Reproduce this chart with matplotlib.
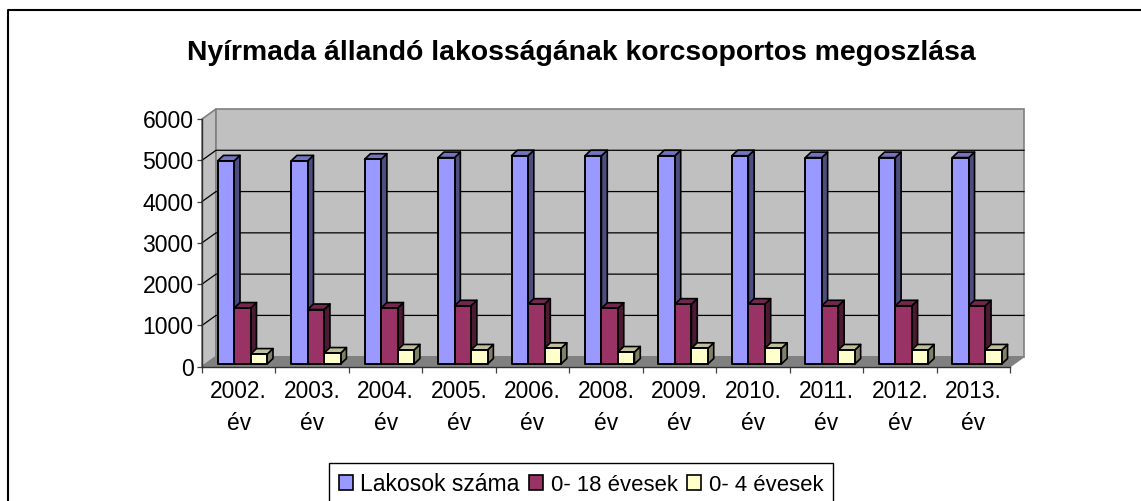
import matplotlib
matplotlib.use("Agg")
from matplotlib import pyplot as plt
from matplotlib.lines import Line2D
from matplotlib.patches import Patch

title = "Nyírmada állandó lakosságának korcsoportos megoszlása"
years = ["2002.", "2003.", "2004.", "2005.", "2006.", "2008.", "2009.", "2010.", "2011.", "2012.", "2013."]
lakosok = [4920, 4920, 4960, 5000, 5045, 5045, 5045, 5045, 5000, 5000, 5000]
kozep = [1355, 1320, 1355, 1410, 1450, 1350, 1450, 1450, 1410, 1410, 1410]
kicsi = [240, 265, 340, 340, 380, 290, 380, 380, 340, 340, 340]
series_names = ["Lakosok száma", "0- 18 évesek", "0- 4 évesek"]
yticks = [0, 1000, 2000, 3000, 4000, 5000, 6000]

W, H = 1141, 501
plt.rcParams["font.family"] = ["Liberation Sans", "DejaVu Sans"]

fig = plt.figure(figsize=(W / 100, H / 100), dpi=100)
ax = fig.add_axes([202 / W, 1 - 366.7 / H, 808 / W, 247.7 / H])
ax.set_xlim(0, 11)
ax.set_ylim(0, 6000)
ax.patch.set_visible(False)

# one pixel expressed in data units, for the fake 3d offsets
px = 11 / 808
py = 6000 / 247.7
back_x, back_y = 14 * px, 10 * py
base_x, base_y = 2.5 * px, 2.7 * py
depth_x, depth_y = 5.8 * px, 5.5 * py
bar_w = 16.5 * px
start = 13.2 * px

# walls and floor
ax.fill([0, back_x, back_x, 0], [0, back_y, 6000 + back_y, 6000], fc="#c0c0c0", ec="#808080", lw=1.2, clip_on=False, zorder=1)
ax.fill([back_x, 11 + back_x, 11 + back_x, back_x], [back_y, back_y, 6000 + back_y, 6000 + back_y],
        fc="#c0c0c0", ec="#808080", lw=1.2, clip_on=False, zorder=1)
ax.fill([0, 11, 11 + back_x, back_x], [0, 0, back_y, back_y], fc="#808080", ec="#808080", lw=1, clip_on=False, zorder=2)
for v in yticks[1:-1]:
    ax.plot([0, back_x, 11 + back_x], [v, v + back_y, v + back_y], color="black", lw=0.9, clip_on=False, zorder=2)


def draw_bar(x, v, front, side, top):
    y0 = base_y
    y1 = base_y + v
    x1 = x + bar_w
    ax.fill([x1, x1 + depth_x, x1 + depth_x, x1], [y0, y0 + depth_y, y1 + depth_y, y1], fc=side, ec="black", lw=1.2,
            clip_on=False, zorder=3, joinstyle="round")
    ax.fill([x, x + depth_x, x1 + depth_x, x1], [y1, y1 + depth_y, y1 + depth_y, y1], fc=top, ec="black", lw=1.2,
            clip_on=False, zorder=3, joinstyle="round")
    ax.fill([x, x1, x1, x], [y0, y0, y1, y1], fc=front, ec="black", lw=1.4, clip_on=False, zorder=3, joinstyle="round")


for i in range(len(years)):
    x = i + start + base_x
    draw_bar(x, lakosok[i], "#9999ff", "#4d4d80", "#7373bf")
    draw_bar(x + bar_w, kozep[i], "#993366", "#4d1a33", "#732650")
    draw_bar(x + 2 * bar_w, kicsi[i], "#ffffcc", "#808066", "#bfbf99")

ax.spines["top"].set_visible(False)
ax.spines["right"].set_visible(False)
for s in ["left", "bottom"]:
    ax.spines[s].set_color("#303030")
    ax.spines[s].set_linewidth(1.0)
    ax.spines[s].set_zorder(4)

ax.set_yticks(yticks)
ax.tick_params(axis="y", length=3.6, width=0.9, pad=2.5, labelsize=16.6, color="#404040")
ax.set_xticks([i + 0.5 for i in range(len(years))], [y + "\név" for y in years], linespacing=1.47)
ax.set_xticks(range(len(years) + 1), minor=True)
ax.tick_params(axis="x", which="major", length=0, pad=9.8, labelsize=16.4)
ax.tick_params(axis="x", which="minor", length=4.5, width=0.9, color="#404040")

handles = [Patch(fc="#9999ff", ec="black", lw=1.2), Patch(fc="#993366", ec="black", lw=1.2), Patch(fc="#ffffcc", ec="black", lw=1.2)]
leg = fig.legend(handles, series_names, ncol=3, loc="upper left", bbox_to_anchor=(329 / W, 1 - 463 / H),
                 fontsize=16.6, frameon=True, fancybox=False, edgecolor="black", framealpha=1,
                 borderaxespad=0, borderpad=0.42, handlelength=0.6, handleheight=0.6, handletextpad=0.33,
                 columnspacing=0.42, labelspacing=0)
leg.get_frame().set_linewidth(1.0)
for t in leg.get_texts()[1:]:
    t.set_fontsize(15.9)

fig.text(581.5 / W, 1 - 52.5 / H, title, ha="center", va="center", fontsize=20.4, fontweight="bold")

# outer chart frame, only top and left are inside the picture
fig.add_artist(Line2D([8 / W, 8 / W, 1], [0, 1 - 10 / H, 1 - 10 / H], color="black", lw=1.5))

fig.savefig("out.png", dpi=100)
